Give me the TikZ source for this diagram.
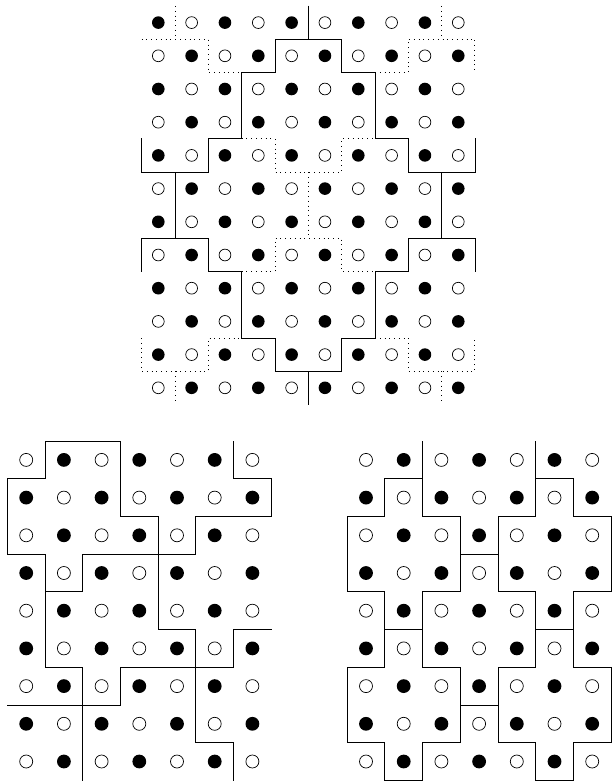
\documentclass[tikz,border=0pt]{standalone}
\begin{document}
\begin{tikzpicture}[x=1pt,y=-1pt,
  wall/.style={line width=0.8pt, line join=miter, line cap=rect},
  dotwall/.style={line width=0.9pt, dash pattern=on 0.9pt off 3.9pt},
  wht/.style={draw=black, line width=0.7pt, fill=white}]
\useasboundingbox (0,0) rectangle (613,781);

% ---------------- top grid ----------------
\begin{scope}[shift={(158.3pt,-22.6pt)}, x=33.33pt, y=-33.2pt]
  \foreach \i in {0,...,9} \foreach \j in {0,...,11} {
    \pgfmathtruncatemacro\p{mod(\i+\j,2)}
    \ifnum\p=0 \fill (\i,\j) circle[radius=6.3pt];
    \else \draw[wht] (\i,\j) circle[radius=5.9pt]; \fi
  }
  % solid walls
  \draw[wall] (4.5,-0.5)--(4.5,0.5);
  \draw[wall] (-0.5,3.5)--(-0.5,4.5)--(1.5,4.5)--(1.5,3.5)--(2.5,3.5)--(2.5,1.5)--(3.5,1.5)--(3.5,0.5)--(5.5,0.5)--(5.5,1.5)--(6.5,1.5)--(6.5,3.5)--(7.5,3.5)--(7.5,4.5)--(9.5,4.5)--(9.5,3.5);
  \draw[wall] (0.5,4.5)--(0.5,6.5);
  \draw[wall] (8.5,4.5)--(8.5,6.5);
  \draw[wall] (-0.5,7.5)--(-0.5,6.5)--(1.5,6.5)--(1.5,7.5)--(2.5,7.5)--(2.5,9.5)--(3.5,9.5)--(3.5,10.5)--(5.5,10.5)--(5.5,9.5)--(6.5,9.5)--(6.5,7.5)--(7.5,7.5)--(7.5,6.5)--(9.5,6.5)--(9.5,7.5);
  \draw[wall] (4.5,10.5)--(4.5,11.5);
  % dotted walls
  \draw[dotwall] (0.5,-0.5)--(0.5,0.5);
  \draw[dotwall] (-0.5,0.5)--(1.5,0.5)--(1.5,1.5)--(2.5,1.5);
  \draw[dotwall] (8.5,-0.5)--(8.5,0.5);
  \draw[dotwall] (6.5,1.5)--(7.5,1.5)--(7.5,0.5)--(9.5,0.5)--(9.5,1.5);
  \draw[dotwall] (2.5,3.5)--(3.5,3.5)--(3.5,4.5)--(5.5,4.5)--(5.5,3.5)--(6.5,3.5);
  \draw[dotwall] (4.5,4.5)--(4.5,6.5);
  \draw[dotwall] (2.5,7.5)--(3.5,7.5)--(3.5,6.5)--(5.5,6.5)--(5.5,7.5)--(6.5,7.5);
  \draw[dotwall] (-0.5,9.5)--(-0.5,10.5)--(1.5,10.5)--(1.5,9.5)--(2.5,9.5);
  \draw[dotwall] (0.5,10.5)--(0.5,11.5);
  \draw[dotwall] (6.5,9.5)--(7.5,9.5)--(7.5,10.5)--(9.5,10.5)--(9.5,9.5);
  \draw[dotwall] (8.5,10.5)--(8.5,11.5);
\end{scope}

% ---------------- bottom-left grid ----------------
\begin{scope}[shift={(26.2pt,-459.9pt)}, x=37.7pt, y=-37.7pt]
  \foreach \i in {0,...,6} \foreach \j in {0,...,8} {
    \pgfmathtruncatemacro\p{mod(\i+\j,2)}
    \ifnum\p=1 \fill (\i,\j) circle[radius=6.9pt];
    \else \draw[wht] (\i,\j) circle[radius=6.5pt]; \fi
  }
  \draw[wall] (2.5,1.5)--(2.5,-0.5)--(0.5,-0.5)--(0.5,0.5)--(-0.5,0.5)--(-0.5,2.5)--(0.5,2.5)--(0.5,3.5)--(1.5,3.5)--(1.5,2.5)--(4.5,2.5)--(4.5,1.5)--(6.5,1.5)--(6.5,0.5)--(5.5,0.5)--(5.5,-0.5);
  \draw[wall] (2.5,1.5)--(3.5,1.5)--(3.5,4.5)--(4.5,4.5)--(4.5,7.5)--(5.5,7.5)--(5.5,8.5);
  \draw[wall] (0.5,3.5)--(0.5,5.5)--(1.5,5.5)--(1.5,8.5);
  \draw[wall] (-0.5,6.5)--(2.5,6.5)--(2.5,5.5)--(5.5,5.5)--(5.5,4.5)--(6.5,4.5);
\end{scope}

% ---------------- bottom-right grid ----------------
\begin{scope}[shift={(366pt,-459.9pt)}, x=37.7pt, y=-37.7pt]
  \foreach \i in {0,...,6} \foreach \j in {0,...,8} {
    \pgfmathtruncatemacro\p{mod(\i+\j,2)}
    \ifnum\p=1 \fill (\i,\j) circle[radius=6.9pt];
    \else \draw[wht] (\i,\j) circle[radius=6.5pt]; \fi
  }
  \foreach \s in {1,-1} {
    \begin{scope}[shift={(3,0)}, xscale=\s, shift={(-3,0)}]
      \draw[wall] (1.5,-0.5)--(1.5,1.5)--(2.5,1.5)--(2.5,3.5)--(1.5,3.5)--(1.5,5.5)--(2.5,5.5)--(2.5,7.5)--(1.5,7.5)--(1.5,8.5);
      \draw[wall] (1.5,0.5)--(0.5,0.5)--(0.5,1.5)--(-0.5,1.5)--(-0.5,3.5)--(0.5,3.5)--(0.5,5.5)--(-0.5,5.5)--(-0.5,7.5)--(0.5,7.5)--(0.5,8.5)--(1.5,8.5);
      \draw[wall] (0.5,4.5)--(1.5,4.5);
    \end{scope}
  }
  \draw[wall] (2.5,2.5)--(3.5,2.5);
  \draw[wall] (2.5,6.5)--(3.5,6.5);
\end{scope}
\end{tikzpicture}
\end{document}
